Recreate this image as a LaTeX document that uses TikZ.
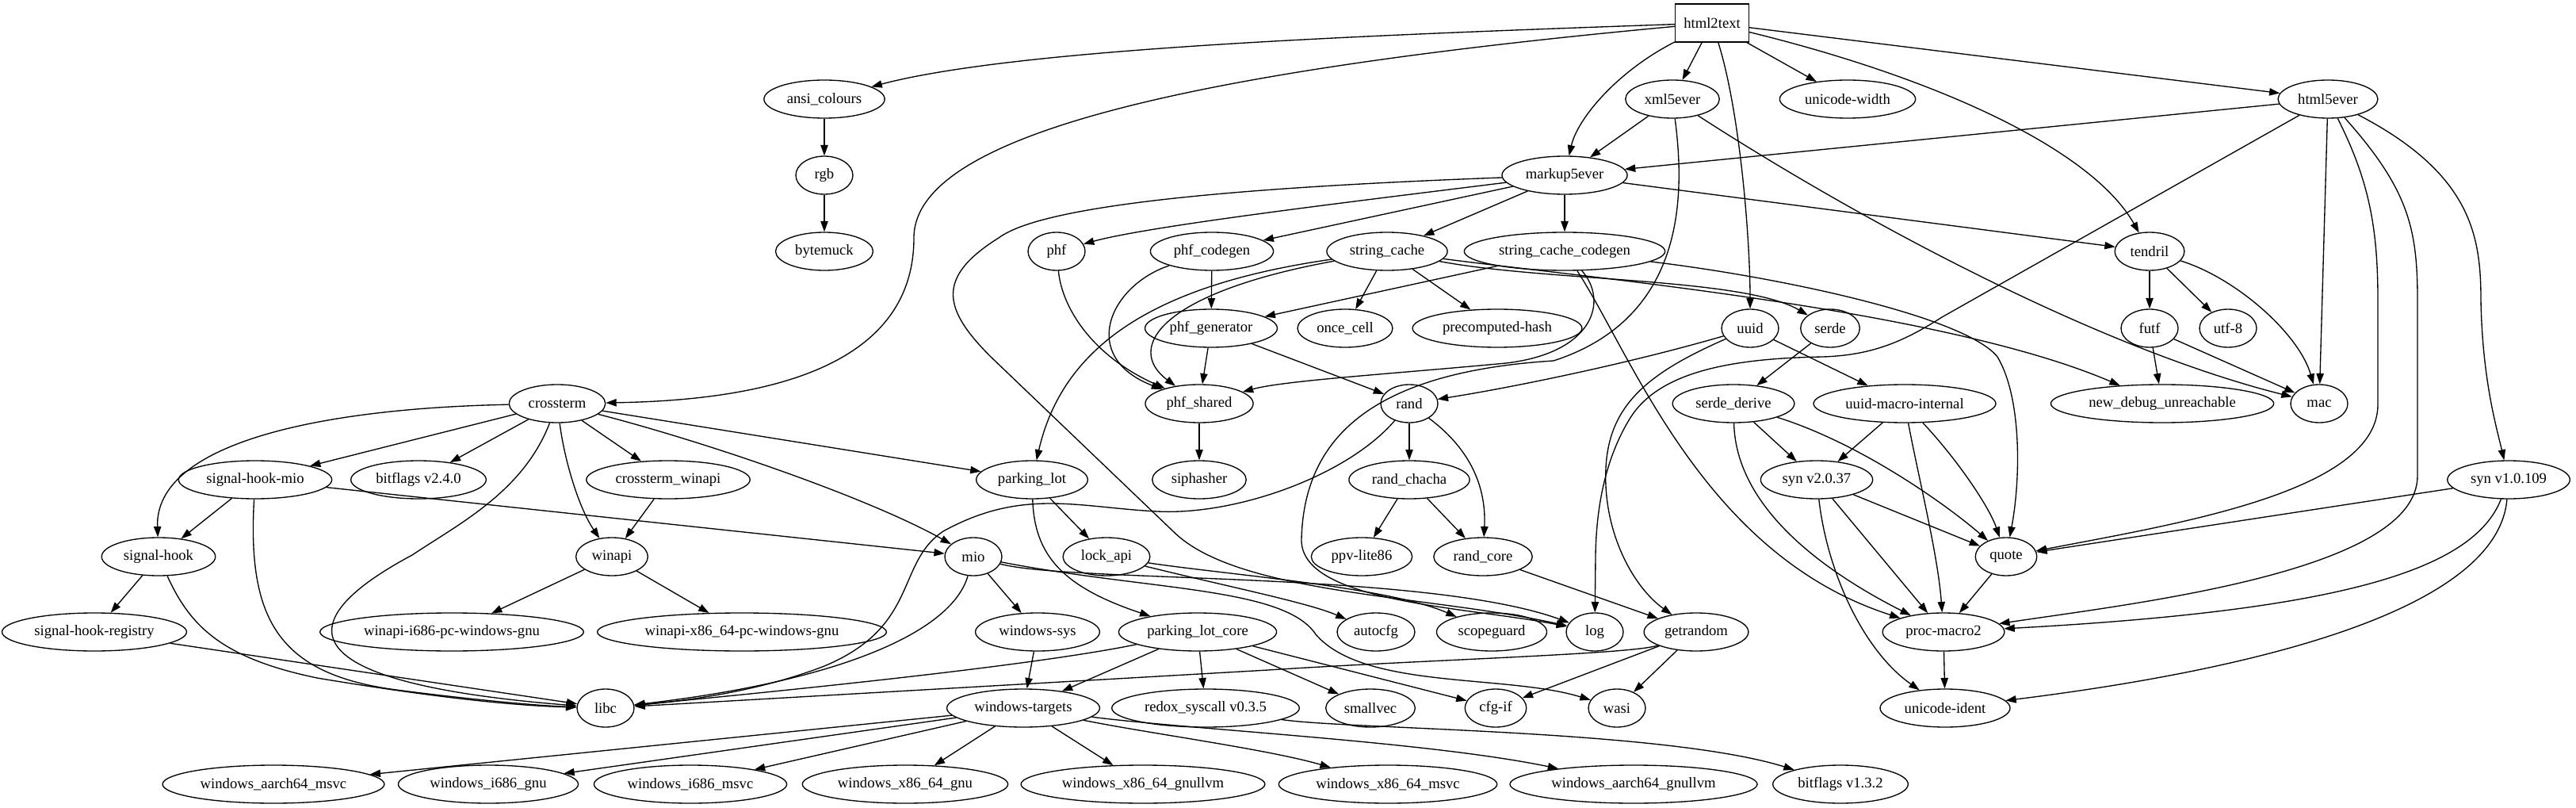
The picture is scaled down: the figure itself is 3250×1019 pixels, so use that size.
\documentclass[tikz,border=0pt]{standalone}
\usepackage{fontspec}
\setmainfont{Liberation Serif}
\usetikzlibrary{arrows.meta,shapes.geometric}
\tikzset{
  nd/.style={draw, ellipse, line width=1pt, minimum width=54pt, minimum height=36pt, inner xsep=5pt, inner ysep=3.9pt, font=\fontsize{14pt}{16pt}\selectfont},
  bx/.style={draw, rectangle, line width=1pt, minimum width=54pt, minimum height=36pt, inner xsep=7.9pt, font=\fontsize{14pt}{16pt}\selectfont},
  e/.style={draw, line width=1pt, -{Triangle[length=10pt,width=7pt]}},
}
\begin{document}
\begin{tikzpicture}[x=0.75pt,y=-0.75pt]
\useasboundingbox (0,0) rectangle (3250,1019);
% rank 0-1
\node[bx] (h2t) at (2160,29) {html2text};
\node[nd] (ansi) at (1040,125) {ansi\_colours};
\node[nd] (xml) at (2110,125) {xml5ever};
\node[nd] (uw) at (2331,125) {unicode-width};
\node[nd] (h5) at (2937,125) {html5ever};
% rank 2
\node[nd] (rgb) at (1040,221) {rgb};
\node[nd] (m5) at (1974,221) {markup5ever};
% rank 3
\node[nd] (bytemuck) at (1040,317) {bytemuck};
\node[nd] (phf) at (1333,317) {phf};
\node[nd] (phfc) at (1529,317) {phf\_codegen};
\node[nd] (sc) at (1750,317) {string\_cache};
\node[nd] (scc) at (1974,317) {string\_cache\_codegen};
\node[nd] (tendril) at (2712,317) {tendril};
% rank 4
\node[nd] (phfg) at (1528,414) {phf\_generator};
\node[nd] (oncecell) at (1697,414) {once\_cell};
\node[nd] (pch) at (1889,414) {precomputed-hash};
\node[nd] (uuid) at (2208,414) {uuid};
\node[nd] (serde) at (2309,414) {serde};
\node[nd] (futf) at (2712,414) {futf};
\node[nd] (utf8) at (2811,414) {utf-8};
% rank 5
\node[nd] (crossterm) at (703,509) {crossterm};
\node[nd] (phfs) at (1513,509) {phf\_shared};
\node[nd] (rand) at (1778,509) {rand};
\node[nd] (serded) at (2187,509) {serde\_derive};
\node[nd] (umi) at (2403,509) {uuid-macro-internal};
\node[nd] (ndu) at (2728,509) {new\_debug\_unreachable};
\node[nd] (mac) at (2926,509) {mac};
% rank 6
\node[nd] (shm) at (322,605) {signal-hook-mio};
\node[nd] (bf2) at (528,605) {bitflags v2.4.0};
\node[nd] (ctw) at (843,605) {crossterm\_winapi};
\node[nd] (pl) at (1302,605) {parking\_lot};
\node[nd] (siphasher) at (1513,605) {siphasher};
\node[nd] (randc) at (1778,605) {rand\_chacha};
\node[nd] (syn2) at (2292,605) {syn v2.0.37};
\node[nd] (syn1) at (3165,605) {syn v1.0.109};
% rank 7
\node[nd] (sh) at (200,702) {signal-hook};
\node[nd] (winapi) at (772,702) {winapi};
\node[nd] (mio) at (1228,702) {mio};
\node[nd] (lockapi) at (1396,702) {lock\_api};
\node[nd] (ppv) at (1718,702) {ppv-lite86};
\node[nd] (randcore) at (1871,702) {rand\_core};
\node[nd] (quote) at (2531,702) {quote};
% rank 8
\node[nd] (shr) at (119,797) {signal-hook-registry};
\node[nd] (wi686) at (570,797) {winapi-i686-pc-windows-gnu};
\node[nd] (wx64) at (936,797) {winapi-x86\_64-pc-windows-gnu};
\node[nd] (wsys) at (1309,797) {windows-sys};
\node[nd] (plc) at (1511,797) {parking\_lot\_core};
\node[nd] (autocfg) at (1736,797) {autocfg};
\node[nd] (scopeguard) at (1882,797) {scopeguard};
\node[nd] (log) at (2012,797) {log};
\node[nd] (getrandom) at (2140,797) {getrandom};
\node[nd] (pm2) at (2452,797) {proc-macro2};
% rank 9
\node[nd] (libc) at (764,893) {libc};
\node[nd] (wt) at (1291,893) {windows-targets};
\node[nd] (redox) at (1521,893) {redox\_syscall v0.3.5};
\node[nd] (smallvec) at (1729,893) {smallvec};
\node[nd] (cfgif) at (1887,893) {cfg-if};
\node[nd] (wasi) at (2040,893) {wasi};
\node[nd] (uid) at (2454,893) {unicode-ident};
% rank 10
\node[nd] (wam) at (345,989) {windows\_aarch64\_msvc};
\node[nd] (wig) at (616,989) {windows\_i686\_gnu};
\node[nd] (wim) at (871,989) {windows\_i686\_msvc};
\node[nd] (wxg) at (1142,989) {windows\_x86\_64\_gnu};
\node[nd] (wxgl) at (1442,989) {windows\_x86\_64\_gnullvm};
\node[nd] (wxm) at (1751,989) {windows\_x86\_64\_msvc};
\node[nd] (wagl) at (2061,989) {windows\_aarch64\_gnullvm};
\node[nd] (bf1) at (2322,989) {bitflags v1.3.2};

% html2text
\draw[e] (h2t) .. controls (1700,45) and (1280,62) .. (ansi);
\draw[e] (h2t) .. controls (1500,90) and (1153,170) .. (1153,300) .. controls (1153,470) and (950,505) .. (crossterm);
\draw[e] (h2t) .. controls (2040,90) and (1990,150) .. (m5);
\draw[e] (h2t) -- (xml);
\draw[e] (h2t) .. controls (2195,140) and (2208,300) .. (uuid);
\draw[e] (h2t) -- (uw);
\draw[e] (h2t) .. controls (2450,100) and (2640,190) .. (tendril);
\draw[e] (h2t) -- (h5);
\draw[e] (ansi) -- (rgb);
\draw[e] (rgb) -- (bytemuck);
% xml5ever
\draw[e] (xml) -- (m5);
\draw[e] (xml) .. controls (2125,240) and (2130,400) .. (1960,455) .. controls (1720,470) and (1645,560) .. (1642,680) .. controls (1640,760) and (1850,765) .. (log);
\draw[e] (xml) .. controls (2350,280) and (2650,440) .. (mac);
% html5ever
\draw[e] (h5) -- (m5);
\draw[e] (h5) -- (2450,400) .. controls (2400,432) and (2360,448) .. (2300,450) .. controls (2180,452) and (2090,470) .. (2055,530) .. controls (2025,580) and (2014,640) .. (2013,700) -- (log);
\draw[e] (h5) -- (mac);
\draw[e] (h5) .. controls (2990,230) and (3000,290) .. (3000,380) -- (3000,510) .. controls (3000,620) and (2750,660) .. (quote);
\draw[e] (h5) .. controls (3040,240) and (3050,290) .. (3050,380) -- (3050,600) .. controls (3050,720) and (2700,760) .. (pm2);
\draw[e] (h5) .. controls (3120,220) and (3130,300) .. (3130,380) .. controls (3132,480) and (3150,540) .. (syn1);
% markup5ever
\draw[e] (m5) .. controls (1600,235) and (1320,255) .. (1260,300) .. controls (1180,350) and (1190,390) .. (1250,450) -- (1480,670) .. controls (1560,750) and (1800,750) .. (log);
\draw[e] (m5) .. controls (1700,255) and (1450,285) .. (phf);
\draw[e] (m5) -- (phfc);
\draw[e] (m5) -- (sc);
\draw[e] (m5) -- (scc);
\draw[e] (m5) -- (tendril);
% phf family
\draw[e] (phf) .. controls (1340,390) and (1380,450) .. (phfs);
\draw[e] (phfc) -- (phfg);
\draw[e] (phfc) .. controls (1400,360) and (1360,450) .. (phfs);
\draw[e] (phfg) -- (phfs);
\draw[e] (phfg) -- (rand);
\draw[e] (phfs) -- (siphasher);
% string_cache
\draw[e] (sc) -- (oncecell);
\draw[e] (sc) -- (pch);
\draw[e] (sc) .. controls (1460,370) and (1420,440) .. (phfs);
\draw[e] (sc) .. controls (1450,360) and (1340,440) .. (pl);
\draw[e] (sc) .. controls (1950,355) and (2200,350) .. (serde);
\draw[e] (sc) .. controls (2000,350) and (2450,390) .. (ndu);
% string_cache_codegen
\draw[e] (scc) -- (phfg);
\draw[e] (scc) .. controls (2030,380) and (2010,445) .. (1900,458) .. controls (1750,472) and (1620,480) .. (phfs);
\draw[e] (scc) .. controls (2060,450) and (2150,700) .. (pm2);
\draw[e] (scc) .. controls (2250,350) and (2480,400) .. (2520,450) .. controls (2550,500) and (2550,600) .. (quote);
% tendril
\draw[e] (tendril) -- (futf);
\draw[e] (tendril) -- (utf8);
\draw[e] (tendril) .. controls (2820,350) and (2900,420) .. (mac);
\draw[e] (futf) -- (ndu);
\draw[e] (futf) -- (mac);
% uuid
\draw[e] (uuid) .. controls (2050,460) and (1900,490) .. (rand);
\draw[e] (uuid) -- (umi);
\draw[e] (uuid) .. controls (2080,470) and (2030,510) .. (2026,590) .. controls (2022,670) and (2060,740) .. (getrandom);
\draw[e] (serde) -- (serded);
\draw[e] (serded) -- (syn2);
\draw[e] (serded) .. controls (2350,560) and (2460,640) .. (quote);
\draw[e] (serded) .. controls (2190,640) and (2300,720) .. (pm2);
\draw[e] (umi) -- (syn2);
\draw[e] (umi) .. controls (2470,580) and (2510,640) .. (quote);
\draw[e] (umi) .. controls (2420,600) and (2445,700) .. (pm2);
\draw[e] (syn2) -- (quote);
\draw[e] (syn2) -- (pm2);
\draw[e] (syn2) .. controls (2305,720) and (2350,820) .. (uid);
\draw[e] (quote) -- (pm2);
\draw[e] (pm2) -- (uid);
\draw[e] (syn1) -- (quote);
\draw[e] (syn1) .. controls (3120,720) and (2950,770) .. (pm2);
\draw[e] (syn1) .. controls (3150,780) and (2800,850) .. (uid);
% rand
\draw[e] (rand) -- (randc);
\draw[e] (rand) .. controls (1860,570) and (1875,620) .. (randcore);
\draw[e] (rand) .. controls (1700,600) and (1560,650) .. (1460,645) .. controls (1360,640) and (1290,615) .. (1190,670) .. controls (1130,710) and (1160,790) .. (1040,840) .. controls (950,875) and (850,885) .. (libc);
\draw[e] (randc) -- (ppv);
\draw[e] (randc) -- (randcore);
\draw[e] (randcore) -- (getrandom);
% crossterm
\draw[e] (crossterm) .. controls (400,515) and (195,560) .. (sh);
\draw[e] (crossterm) -- (shm);
\draw[e] (crossterm) -- (bf2);
\draw[e] (crossterm) .. controls (660,620) and (580,660) .. (520,700) .. controls (370,780) and (350,860) .. (libc);
\draw[e] (crossterm) .. controls (712,580) and (730,640) .. (winapi);
\draw[e] (crossterm) -- (ctw);
\draw[e] (crossterm) .. controls (900,560) and (1100,630) .. (mio);
\draw[e] (crossterm) -- (pl);
\draw[e] (ctw) -- (winapi);
\draw[e] (shm) -- (sh);
\draw[e] (shm) .. controls (312,780) and (350,850) .. (500,870) .. controls (600,883) and (680,890) .. (libc);
\draw[e] (shm) -- (mio);
\draw[e] (sh) -- (shr);
\draw[e] (sh) .. controls (240,790) and (280,830) .. (400,855) .. controls (550,880) and (650,890) .. (libc);
\draw[e] (shr) -- (libc);
\draw[e] (winapi) -- (wi686);
\draw[e] (winapi) -- (wx64);
% mio
\draw[e] (mio) .. controls (1200,800) and (1050,860) .. (libc);
\draw[e] (mio) -- (wsys);
\draw[e] (mio) .. controls (1350,735) and (1800,720) .. (log);
\draw[e] (mio) .. controls (1450,745) and (1620,740) .. (1660,800) .. controls (1720,870) and (1900,850) .. (wasi);
% parking_lot
\draw[e] (lockapi) .. controls (1550,740) and (1650,760) .. (autocfg);
\draw[e] (lockapi) .. controls (1550,725) and (1750,740) .. (scopeguard);
\draw[e] (pl) -- (lockapi);
\draw[e] (pl) .. controls (1305,700) and (1340,740) .. (plc);
\draw[e] (plc) .. controls (1300,840) and (1000,870) .. (libc);
\draw[e] (plc) -- (wt);
\draw[e] (plc) -- (redox);
\draw[e] (plc) -- (smallvec);
\draw[e] (plc) -- (cfgif);
\draw[e] (wsys) -- (wt);
% windows-targets
\draw[e] (wt) -- (wam);
\draw[e] (wt) -- (wig);
\draw[e] (wt) -- (wim);
\draw[e] (wt) -- (wxg);
\draw[e] (wt) -- (wxgl);
\draw[e] (wt) .. controls (1450,925) and (1600,945) .. (wxm);
\draw[e] (wt) .. controls (1500,920) and (1800,935) .. (wagl);
\draw[e] (redox) .. controls (1700,920) and (2100,920) .. (bf1);
% getrandom
\draw[e] (getrandom) .. controls (2060,825) and (1800,832) .. (1600,845) -- (libc);
\draw[e] (getrandom) -- (cfgif);
\draw[e] (getrandom) -- (wasi);
\end{tikzpicture}
\end{document}
